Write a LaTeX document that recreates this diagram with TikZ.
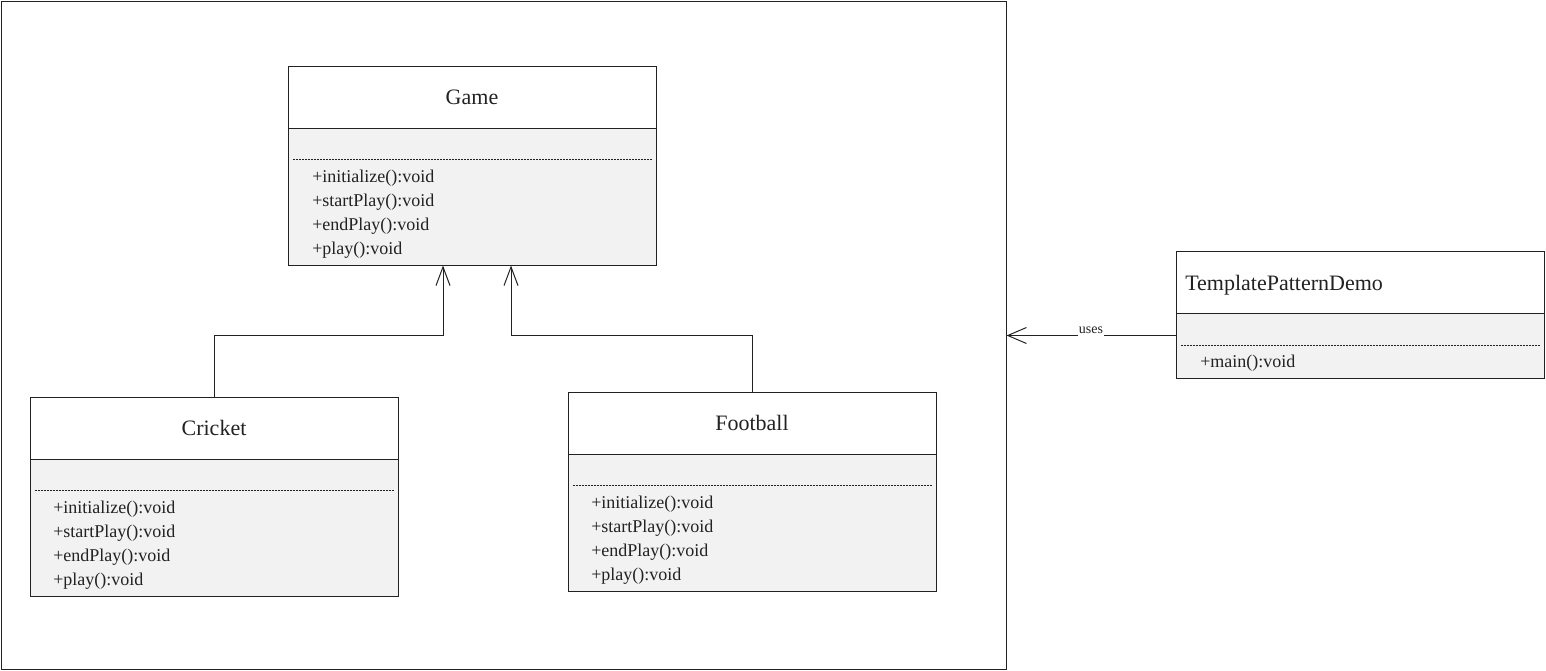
\documentclass[tikz,border=0pt]{standalone}
\usepackage{fontspec}
\setmainfont{Liberation Serif}
\usetikzlibrary{arrows.meta,calc}
\definecolor{bodyfill}{RGB}{242,242,242}
\definecolor{ink}{RGB}{34,34,34}
\begin{document}
\begin{tikzpicture}[x=0.75pt,y=-0.75pt,
  line/.style={draw=ink, line width=0.75pt},
  titlebox/.style={line, fill=white, minimum width=276pt, minimum height=46.5pt, inner sep=0pt,
    font=\fontsize{16.5}{19}\selectfont, text=ink},
  bodybox/.style={line, fill=bodyfill, minimum width=276pt, minimum height=102.75pt, inner sep=0pt},
  smallbody/.style={line, fill=bodyfill, minimum width=276pt, minimum height=48.75pt, inner sep=0pt},
  member/.style={inner sep=0pt, anchor=base west, font=\fontsize{13.5}{16}\selectfont, text=ink},
  sep/.style={draw=ink, line width=0.6pt, dash pattern=on 1.5pt off 0.75pt},
  inherit/.style={line, -{Straight Barb[length=14pt,width=10.5pt]}},
  uses/.style={line, -{Straight Barb[length=14pt,width=12pt]}}
]
\useasboundingbox (0,0) rectangle (1546,671);
% frame
\node[line, minimum width=753.75pt, minimum height=501pt, inner sep=0pt] (frame) at (503.5,335) {};

% Game
\node[titlebox] (gameT) at (472,97) {Game};
\node[bodybox] (gameB) at (472,196.5) {};
\draw[sep] ($(gameB.north west)+(5,32)$) -- ($(gameB.north east)+(-5,32)$);
\foreach \t [count=\i] in {+initialize():void,+startPlay():void,+endPlay():void,+play():void}
  \node[member] (gm\i) at (312,{158+24*\i}) {\t};

% Cricket
\node[titlebox] (crT) at (214,428) {Cricket};
\node[bodybox] (crB) at (214,527.5) {};
\draw[sep] ($(crB.north west)+(5,32)$) -- ($(crB.north east)+(-5,32)$);
\foreach \t [count=\i] in {+initialize():void,+startPlay():void,+endPlay():void,+play():void}
  \node[member] (cm\i) at (53,{489+24*\i}) {\t};

% Football
\node[titlebox] (fbT) at (752,423) {Football};
\node[bodybox] (fbB) at (752,522.5) {};
\draw[sep] ($(fbB.north west)+(5,32)$) -- ($(fbB.north east)+(-5,32)$);
\foreach \t [count=\i] in {+initialize():void,+startPlay():void,+endPlay():void,+play():void}
  \node[member] (fm\i) at (591,{484+24*\i}) {\t};

% TemplatePatternDemo
\node[titlebox] (tpT) at (1360,282) {};
\node[inner sep=0pt, anchor=base west, font=\fontsize{16.5}{19}\selectfont, text=ink] (tpL) at (1185,290) {TemplatePatternDemo};
\node[smallbody] (tpB) at (1360,345.5) {};
\draw[sep] ($(tpB.north west)+(5,33)$) -- ($(tpB.north east)+(-5,33)$);
\node[member] (tm1) at (1200,367) {+main():void};

% inheritance connectors
\coordinate (g1) at ($(gameB.south)+(-29,0)$);
\coordinate (g2) at ($(gameB.south)+(39,0)$);
\draw[inherit] (crT.north) -- ++(0,-61) -| (g1);
\draw[inherit] (fbT.north) -- ++(0,-56) -| (g2);

% uses
\coordinate (u1) at ($(tpB.north west)+(0,23)$);
\draw[uses] (u1) -- node[pos=0.5, anchor=base, fill=white, inner xsep=1pt, inner ysep=2.5pt, font=\fontsize{10.5}{12}\selectfont, text=ink, yshift=1.5pt] (usesL) {uses} (frame.east |- u1);
\end{tikzpicture}
\end{document}
